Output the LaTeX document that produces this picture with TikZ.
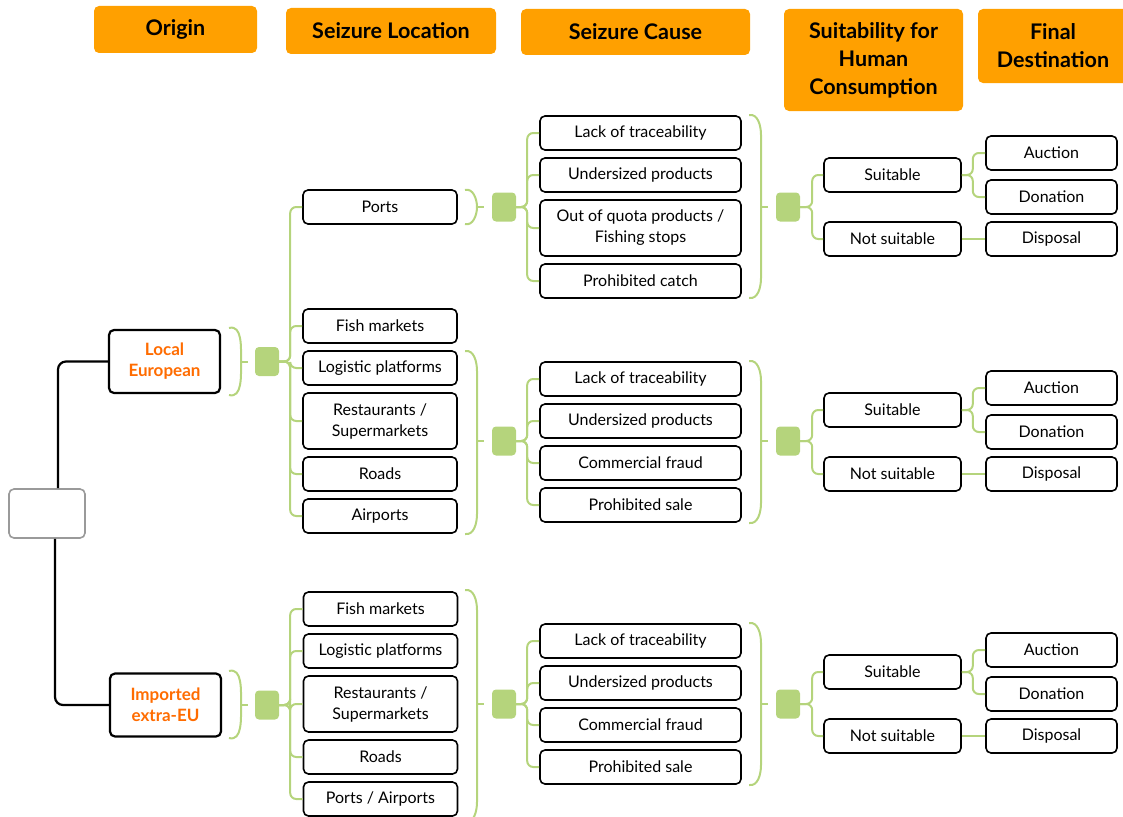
\documentclass[tikz,border=0pt]{standalone}
\usepackage{fontspec}
\setmainfont{Lato}
\definecolor{hdr}{HTML}{FFA000}
\definecolor{leaf}{HTML}{B5D47C}
\definecolor{orig}{HTML}{FF6C00}
\definecolor{rootgray}{HTML}{9A9A9A}

% round bracket for short groups: left x, top y, bottom y
\newcommand\shortbrk[3]{%
  \draw[gl] (#1,#2) to[out=15,in=90] ({#1+12},{(#2+#3)/2}) to[out=-90,in=-15] (#1,#3);
  \draw[gl] ({#1+12},{(#2+#3)/2}) -- ({#1+19},{(#2+#3)/2});}
% tall bracket: left x, top y, bottom y, tick y
\newcommand\longbrk[4]{%
  \draw[gl] (#1,#2) to[out=10,in=90] ({#1+12},{#2+20}) -- ({#1+12},{#3-20}) to[out=-90,in=-10] (#1,#3);
  \draw[gl] ({#1+12},#4) -- ({#1+19},#4);}

\begin{document}
\begin{tikzpicture}[x=1pt,y=-1pt,
  hdrbox/.style={fill=hdr, rounded corners=5pt, inner sep=0pt, align=center,
    font=\fontsize{21.5}{28}\selectfont\bfseries},
  box/.style={draw=black, line width=1.6pt, rounded corners=5pt, fill=white, inner sep=0pt,
    align=center, font=\fontsize{16}{21}\selectfont},
  loc/.style={box, minimum width=154, minimum height=34},
  cause/.style={box, minimum width=201, minimum height=34},
  suit/.style={box, minimum width=137, minimum height=34},
  dest/.style={box, minimum width=131, minimum height=34},
  tall/.style={minimum height=56},
  origbox/.style={box, line width=2.2pt, minimum width=111, minimum height=63, text=orig,
    font=\fontsize{17}{21}\selectfont\bfseries},
  sq/.style={fill=leaf, rounded corners=4pt, minimum width=24, minimum height=29, inner sep=0pt},
  gl/.style={draw=leaf, line width=2pt},
  br/.style={gl, rounded corners=6pt},
  bl/.style={draw=black, line width=2.2pt, rounded corners=8pt},
]
\useasboundingbox (0,0) rectangle (1123,816);

% column headers
\node[hdrbox, minimum width=163, minimum height=47] (hO) at (175.5,29.5) {Origin};
\node[hdrbox, minimum width=210, minimum height=46] (hL) at (391,31) {Seizure Location};
\node[hdrbox, minimum width=229, minimum height=46] (hC) at (635.5,32) {Seizure Cause};
\node[hdrbox, minimum width=179, minimum height=102] (hS) at (873.5,60) {Suitability for\\Human\\Consumption};
\node[hdrbox, minimum width=150, minimum height=74] (hD) at (1053,46) {Final\\Destination};

% root and origins
\node[draw=rootgray, line width=1.6pt, rounded corners=5pt, fill=white,
  minimum width=76, minimum height=49] (root) at (47,513.5) {};
\node[origbox] (loc) at (164.5,361.5) {Local\\European};
\node[origbox] (imp) at (165.5,705) {Imported\\extra-EU};
\draw[bl] ([xshift=11]root.north) |- (loc.west);
\draw[bl] ([xshift=8]root.south) |- (imp.west);

% ---------- Local European ----------
\shortbrk{229}{328}{395}
\node[sq] (s1) at (267,361.5) {};
\node[loc] (l1) at (380,207) {Ports};
\node[loc] (l2) at (380,326) {Fish markets};
\node[loc] (l3) at (380,368) {Logistic platforms};
\node[loc, tall] (l4) at (380,421) {Restaurants /\\Supermarkets};
\node[loc] (l5) at (380,474) {Roads};
\node[loc] (l6) at (380,516) {Airports};
\foreach \n in {l1,l2,l3,l4,l5,l6} \draw[br] (s1.east) -- ++(11,0) |- (\n.west);

% ports branch
\shortbrk{465}{190}{224}
\node[sq] (s2) at (504,207) {};
\node[cause] (c1) at (640.5,133) {Lack of traceability};
\node[cause] (c2) at (640.5,175) {Undersized products};
\node[cause, tall] (c3) at (640.5,228) {Out of quota products /\\Fishing stops};
\node[cause] (c4) at (640.5,281) {Prohibited catch};
\foreach \n in {c1,c2,c3,c4} \draw[br] (s2.east) -- ++(11,0) |- (\n.west);
\longbrk{749}{115}{298}{207}
\node[sq] (s3) at (788,207) {};
\node[suit] (u1) at (892.5,175) {Suitable};
\node[suit] (n1) at (892.5,239) {Not suitable};
\foreach \n in {u1,n1} \draw[br] (s3.east) -- ++(12,0) |- (\n.west);
\node[dest] (a1) at (1051.5,153) {Auction};
\node[dest] (d1) at (1051.5,197) {Donation};
\node[dest] (p1) at (1051.5,239) {Disposal};
\foreach \n in {a1,d1} \draw[br] (u1.east) -- ++(11,0) |- (\n.west);
\draw[gl] (n1.east) -- (p1.west);

% other local locations
\longbrk{465}{351}{534}{441}
\node[sq] (s4) at (504,441) {};
\node[cause] (c5) at (640.5,379) {Lack of traceability};
\node[cause] (c6) at (640.5,421) {Undersized products};
\node[cause] (c7) at (640.5,463) {Commercial fraud};
\node[cause] (c8) at (640.5,505) {Prohibited sale};
\foreach \n in {c5,c6,c7,c8} \draw[br] (s4.east) -- ++(11,0) |- (\n.west);
\longbrk{749}{361}{523}{441}
\node[sq] (s5) at (788,441) {};
\node[suit] (u2) at (892.5,410) {Suitable};
\node[suit] (n2) at (892.5,474) {Not suitable};
\foreach \n in {u2,n2} \draw[br] (s5.east) -- ++(12,0) |- (\n.west);
\node[dest] (a2) at (1051.5,388) {Auction};
\node[dest] (d2) at (1051.5,432) {Donation};
\node[dest] (p2) at (1051.5,474) {Disposal};
\foreach \n in {a2,d2} \draw[br] (u2.east) -- ++(11,0) |- (\n.west);
\draw[gl] (n2.east) -- (p2.west);

% ---------- Imported extra-EU ----------
\shortbrk{229}{671}{738}
\node[sq] (s6) at (267,705) {};
\node[loc] (m1) at (380.5,609) {Fish markets};
\node[loc] (m2) at (380.5,651) {Logistic platforms};
\node[loc, tall] (m3) at (380.5,704) {Restaurants /\\Supermarkets};
\node[loc] (m4) at (380.5,757) {Roads};
\node[loc] (m5) at (380.5,799) {Ports / Airports};
\foreach \n in {m1,m2,m3,m4,m5} \draw[br] (s6.east) -- ++(11,0) |- (\n.west);
\longbrk{465}{590}{822}{704}
\node[sq] (s7) at (504,704) {};
\node[cause] (c9) at (640.5,641) {Lack of traceability};
\node[cause] (c10) at (640.5,683) {Undersized products};
\node[cause] (c11) at (640.5,725) {Commercial fraud};
\node[cause] (c12) at (640.5,767) {Prohibited sale};
\foreach \n in {c9,c10,c11,c12} \draw[br] (s7.east) -- ++(11,0) |- (\n.west);
\longbrk{749}{623}{785}{704}
\node[sq] (s8) at (788,704) {};
\node[suit] (u3) at (892.5,672) {Suitable};
\node[suit] (n3) at (892.5,736) {Not suitable};
\foreach \n in {u3,n3} \draw[br] (s8.east) -- ++(12,0) |- (\n.west);
\node[dest] (a3) at (1051.5,650) {Auction};
\node[dest] (d3) at (1051.5,694) {Donation};
\node[dest] (p3) at (1051.5,736) {Disposal};
\foreach \n in {a3,d3} \draw[br] (u3.east) -- ++(11,0) |- (\n.west);
\draw[gl] (n3.east) -- (p3.west);
\end{tikzpicture}
\end{document}
